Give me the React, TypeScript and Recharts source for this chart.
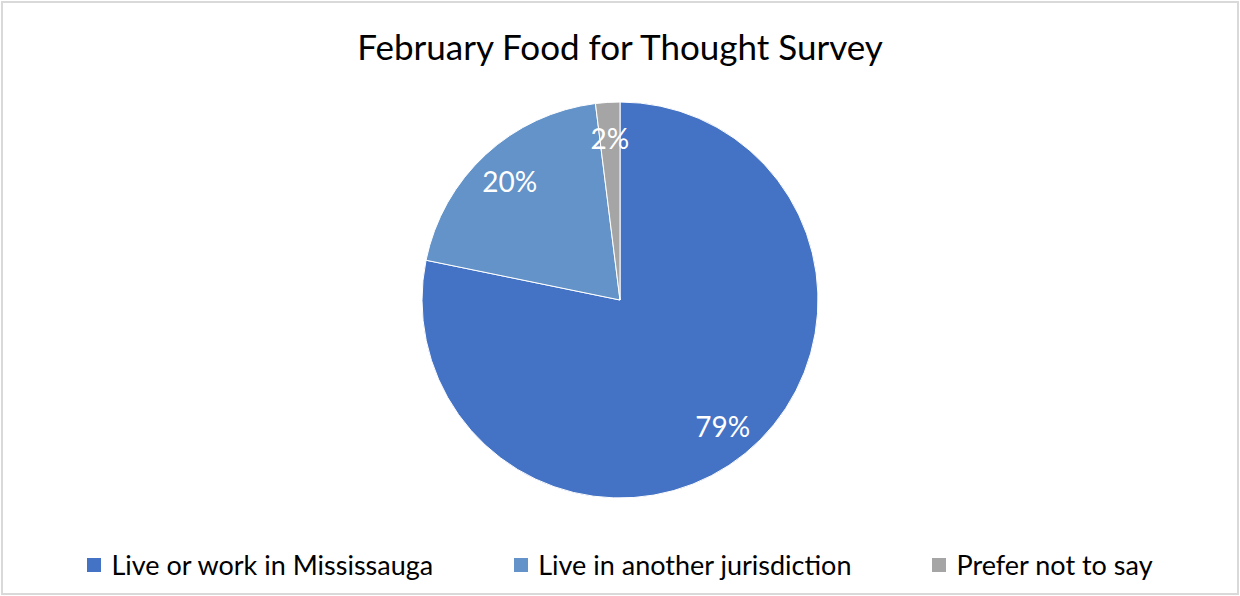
import { PieChart, Pie, Cell, Legend } from 'recharts';

const categories = ['Live or work in Mississauga', 'Live in another jurisdiction', 'Prefer not to say'];
const percentages = [79, 20, 2];
const colors = ['#4472C4', '#6393C8', '#A5A5A5'];

const data = categories.map((name, i) => ({ name, value: percentages[i] }));

const FONT = 'Lato, "Open Sans", sans-serif';
const RADIAN = Math.PI / 180;

const renderLabel = (props: any) => {
    const { cx, cy, midAngle, outerRadius, value } = props;
    const r = outerRadius * 0.82;
    const x = cx + r * Math.cos(-midAngle * RADIAN);
    const y = cy + r * Math.sin(-midAngle * RADIAN);
    return (
        <text x={x} y={y} fill="#fff" fontSize={28} fontFamily={FONT} textAnchor="middle" dominantBaseline="central">
            {value}%
        </text>
    );
};

const renderLegend = () => (
    <div style={{ display: 'flex', justifyContent: 'center', gap: 81, fontFamily: FONT, fontSize: 27, color: '#000' }}>
        {categories.map((name, i) => (
            <div key={name} style={{ display: 'flex', alignItems: 'center' }}>
                <span style={{ width: 14, height: 14, background: colors[i], marginRight: 10, display: 'inline-block' }} />
                <span>{name}</span>
            </div>
        ))}
    </div>
);

const App = () => {
    return (
        <div style={{ position: 'absolute', left: 0, top: 0, width: 1240, height: 596, background: '#fff' }}>
            <div
                style={{
                    position: 'absolute',
                    left: 1,
                    top: 1,
                    width: 1238,
                    height: 594,
                    boxSizing: 'border-box',
                    border: '2px solid #d9d9d9',
                }}
            />
            <div
                style={{
                    position: 'absolute',
                    left: 0,
                    top: 25,
                    width: 1240,
                    textAlign: 'center',
                    fontFamily: FONT,
                    fontSize: 35,
                    color: '#000',
                }}
            >
                February Food for Thought Survey
            </div>
            <div style={{ position: 'absolute', left: 0, top: 0 }}>
                <PieChart width={1240} height={596} margin={{ top: 0, right: 0, bottom: 0, left: 0 }}>
                    <Pie
                        data={data}
                        dataKey="value"
                        nameKey="name"
                        cx={620}
                        cy={300}
                        outerRadius={198}
                        startAngle={90}
                        endAngle={-270}
                        stroke="#fff"
                        strokeWidth={1}
                        label={renderLabel}
                        labelLine={false}
                        isAnimationActive={false}
                    >
                        {data.map((d, i) => (
                            <Cell key={d.name} fill={colors[i]} />
                        ))}
                    </Pie>
                    <Legend content={renderLegend} wrapperStyle={{ top: 548, left: 0, width: 1240 }} />
                </PieChart>
            </div>
        </div>
    );
};

export default App;
